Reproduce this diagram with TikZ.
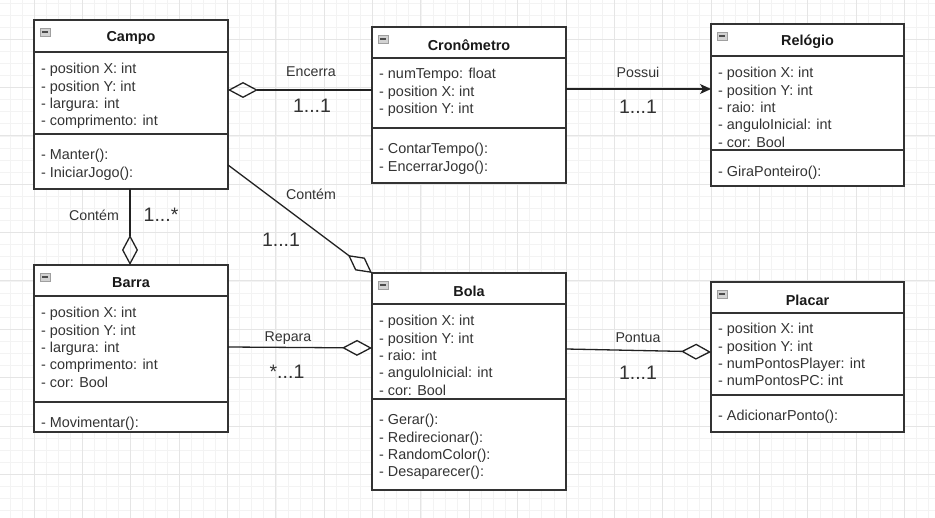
\documentclass[tikz,border=0pt]{standalone}
\usepackage{fontspec}
\setmainfont{Liberation Sans}
\usetikzlibrary{arrows.meta}
\definecolor{boxc}{HTML}{333333}
\definecolor{txtc}{HTML}{333333}
\definecolor{linec}{HTML}{222222}
\definecolor{gridminor}{HTML}{F3F3F3}
\definecolor{gridmajor}{HTML}{E5E5E5}
\newcommand{\umlclass}[8]{%
  \node[umlbox, minimum width=#4pt, minimum height=#5pt] (#1) at (#2,#3) {};
  \draw[sepline] (#1.west |- 0,#6) -- (#1.east |- 0,#6);
  \draw[sepline] (#1.west |- 0,#7) -- (#1.east |- 0,#7);
  \draw[iconbox] ({#2+6},{#3+8}) rectangle ++(10,8);
  \draw[iconbar] ({#2+8},{#3+12}) -- ++(6,0);
  \node[ctitle] (#1-title) at ({#2+#4/2},{#3+18}) {#8};
}
\newcommand{\members}[4]{%
  \foreach \mtext [count=\mi] in {#4}
    \node[member] (#1-\mi) at (#2,{#3+2+(\mi-1)*17.4}) {\mtext};
}
\begin{document}
\begin{tikzpicture}[x=1pt,y=-1pt,
  umlbox/.style={draw=boxc, line width=1.4pt, fill=white, anchor=north west, inner sep=0pt, outer sep=0pt},
  sepline/.style={draw=boxc, line width=1.4pt},
  iconbox/.style={draw=gray!75, fill=gray!35, line width=0.6pt},
  iconbar/.style={draw=black!70, line width=1.3pt},
  ctitle/.style={inner sep=0pt, anchor=center, text=black!90, font=\fontsize{14.4}{17}\selectfont\bfseries},
  member/.style={inner sep=0pt, anchor=mid west, text=txtc, font=\fontsize{14.4}{17}\selectfont},
  lbl/.style={inner sep=0pt, anchor=center, text=txtc, font=\fontsize{14.2}{17}\selectfont},
  mult/.style={inner sep=0pt, anchor=center, text=txtc, font=\fontsize{19.5}{22}\selectfont},
  conn/.style={draw=linec, line width=1.3pt},
  aggr/.style={conn, -{Diamond[open, length=30pt, width=16pt]}},
  assoc/.style={conn, -{Stealth[length=11pt, width=10pt, inset=3pt]}},
  gmin/.style={draw=gridminor, line width=0.6pt},
  gmaj/.style={draw=gridmajor, line width=0.8pt}
]
\useasboundingbox (0,0) rectangle (935,518);
\fill[white] (0,0) rectangle (935,518);
% grid
\foreach \k in {0,...,76} \draw[gmin] ({9.82+\k*12.09},0) -- ({9.82+\k*12.09},518);
\foreach \k in {0,...,42} \draw[gmin] (0,{2.83+\k*12.09}) -- (935,{2.83+\k*12.09});
\foreach \k in {1,...,19} \draw[gmaj] ({-14.37+\k*48.36},0) -- ({-14.37+\k*48.36},518);
\foreach \k in {1,...,10} \draw[gmaj] (0,{-9.26+\k*48.36}) -- (935,{-9.26+\k*48.36});

% classes
\umlclass{campo}{34}{20}{194}{169}{52}{134}{Campo}
\members{campoA}{41}{69}{- position X: int,- position Y: int,- largura: int,- comprimento: int}
\members{campoM}{41}{155}{- Manter():,- IniciarJogo():}

\umlclass{cron}{372}{27}{194}{156}{58}{128}{Cronômetro}
\members{cronA}{379}{74}{- numTempo: float,- position X: int,- position Y: int}
\members{cronM}{379}{149}{- ContarTempo():,- EncerrarJogo():}

\umlclass{relogio}{711}{24}{193}{162}{56}{150}{Relógio}
\members{relA}{718}{73}{- position X: int,- position Y: int,- raio: int,- anguloInicial: int,- cor: Bool}
\members{relM}{718}{172}{- GiraPonteiro():}

\umlclass{barra}{34}{265}{194}{167}{296}{402}{Barra}
\members{barA}{41}{313}{- position X: int,- position Y: int,- largura: int,- comprimento: int,- cor: Bool}
\members{barM}{41}{423}{- Movimentar():}

\umlclass{bola}{372}{273}{194}{217}{304}{399}{Bola}
\members{bolA}{379}{321}{- position X: int,- position Y: int,- raio: int,- anguloInicial: int,- cor: Bool}
\members{bolM}{379}{420}{- Gerar():,- Redirecionar():,- RandomColor():,- Desaparecer():}

\umlclass{placar}{711}{282}{193}{150}{313}{395}{Placar}
\members{plaA}{718}{329}{- position X: int,- position Y: int,- numPontosPlayer: int,- numPontosPC: int}
\members{plaM}{718}{416}{- AdicionarPonto():}

% connectors
\draw[aggr] ([yshift=-63pt]cron.north west) -- ([yshift=-70pt]campo.north east);
\draw[assoc] ([yshift=-62pt]cron.north east) -- ([yshift=-65pt]relogio.north west);
\draw[aggr] ([xshift=-1pt]campo.south) -- ([xshift=-1pt]barra.north);
\draw[aggr] ([yshift=-145pt]campo.north east) -- (bola.north west);
\draw[aggr] ([yshift=-82pt]barra.north east) -- ([yshift=-75pt]bola.north west);
\draw[aggr] ([yshift=-76pt]bola.north east) -- ([yshift=-70pt]placar.north west);

% labels
\node[lbl] (l-encerra) at (311,72) {Encerra};
\node[mult] (m-encerra) at (312,106) {1...1};
\node[lbl] (l-possui) at (638,72) {Possui};
\node[mult] (m-possui) at (638,107) {1...1};
\node[lbl] (l-contem1) at (94,215) {Contém};
\node[mult] (m-contem1) at (161,215) {1...*};
\node[lbl] (l-contem2) at (311,194) {Contém};
\node[mult] (m-contem2) at (281,240) {1...1};
\node[lbl] (l-repara) at (288,338) {Repara};
\node[mult] (m-repara) at (287,372) {*...1};
\node[lbl] (l-pontua) at (638,338) {Pontua};
\node[mult] (m-pontua) at (638,373) {1...1};
\end{tikzpicture}
\end{document}
